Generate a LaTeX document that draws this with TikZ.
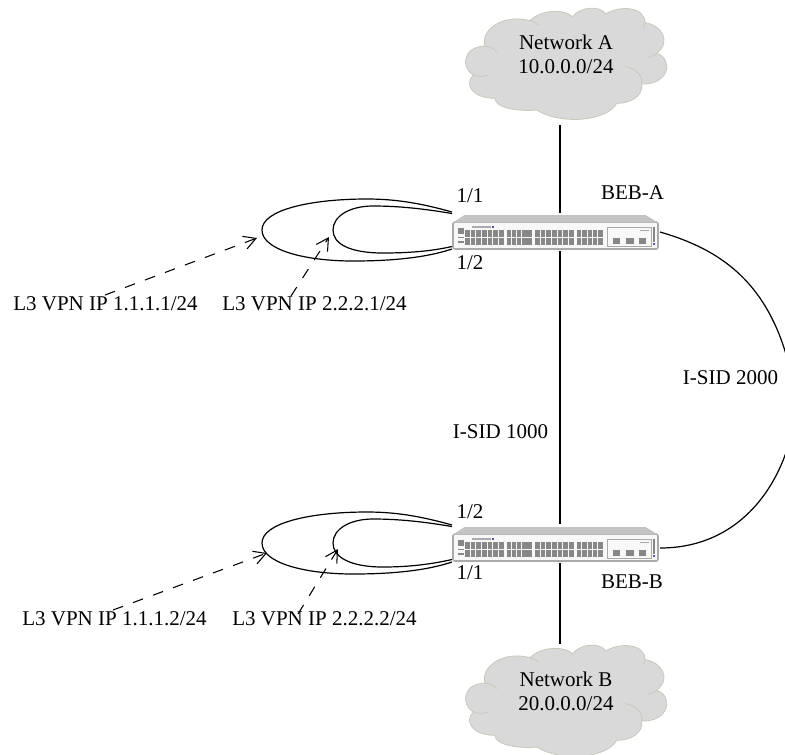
\documentclass[tikz,border=0pt]{standalone}
\usepackage{fontspec}
\usetikzlibrary{arrows.meta}
\setmainfont{Liberation Serif}
\definecolor{cloudfill}{RGB}{217,217,217}
\definecolor{cloudedge}{RGB}{200,200,185}
\definecolor{swbody}{RGB}{248,248,248}
\definecolor{swedge}{RGB}{170,170,170}
\definecolor{swtop}{RGB}{195,195,195}
\definecolor{swport}{RGB}{135,135,135}
\definecolor{swled}{RGB}{100,70,190}
\tikzset{
  x=0.75pt,y=-0.75pt,
  lbl/.style={font=\fontsize{15.75}{18}\selectfont,inner sep=0pt,align=center},
  link/.style={line width=1.5pt,black},
  curvelink/.style={line width=0.9pt,black},
  tunnel/.style={line width=0.9pt,black},
  pointer/.style={line width=0.8pt,black,dash pattern=on 8pt off 8pt,-{Straight Barb[length=9pt,width=10pt]}},
  swframe/.style={minimum width=153.75pt,minimum height=20.25pt,inner sep=0pt,draw=swedge,fill=swbody,line width=1.2pt,rounded corners=1.5pt},
  cloudshape/.style={fill=cloudfill,draw=cloudedge,line width=0.6pt},
  cloudfold/.style={draw=cloudedge,line width=0.6pt},
  switchbody/.pic={
    \fill[swtop] (-102.5,-13) -- (-91,-20.5) -- (90,-20.5) -- (102.5,-13) -- cycle;
    \foreach \gx/\n/\pt in {-90.5/7/5.67,-48.8/5/5.1,-20.5/7/5.67,21.2/5/5.4}{
      \foreach \i in {1,...,\n}{
        \pgfmathsetmacro{\px}{\gx+(\i-1)*\pt}
        \fill[swport] (\px,-5.5) rectangle ++(4.5,6.5);
        \fill[swport] (\px,2.9) rectangle ++(4.5,6.5);
      }
    }
    \fill[swport] (-98,-8) rectangle (-92,-2);
    \fill[swport] (-98,1.2) rectangle (-92,2.8);
    \fill[swport] (-98,5) rectangle (-92,7);
    \draw[swedge,line width=0.5pt] (52,-8) rectangle (95.5,11);
    \fill[swport] (57,2) rectangle (64.5,8);
    \fill[swport] (70,2) rectangle (78,8);
    \fill[swport] (83,2) rectangle (90.5,8);
    \fill[swedge] (84,-6) rectangle (93,-5);
    \fill[swport] (97,-9) rectangle (99.2,6);
    \fill[swedge] (-84,-9.5) rectangle (-65,-8);
    \fill[swled] (-64,-10) rectangle (-62,-8);
    \fill[swled] (97.5,7) rectangle (99.5,9);
  },
}
\newcommand{\cloudoutline}{
  \path[cloudshape] (100,225) .. controls (60,200) and (70,140) .. (135,138)
    .. controls (120,90) and (190,40) .. (270,62)
    .. controls (300,30) and (370,25) .. (398,50)
    .. controls (420,20) and (480,15) .. (497,42)
    .. controls (540,15) and (615,20) .. (615,68)
    .. controls (665,75) and (695,125) .. (650,160)
    .. controls (700,175) and (690,255) .. (605,252)
    .. controls (610,290) and (570,310) .. (530,310)
    .. controls (500,365) and (360,375) .. (290,330)
    .. controls (240,335) and (165,325) .. (165,295)
    .. controls (100,295) and (70,255) .. (100,225) -- cycle;
  \path[cloudfold] (135,138) .. controls (150,140) and (162,146) .. (170,155);
  \path[cloudfold] (100,225) .. controls (115,230) and (130,230) .. (145,226);
  \path[cloudfold] (555,200) .. controls (590,205) and (610,230) .. (605,252);
  \path[cloudfold] (650,160) .. controls (642,167) and (635,170) .. (625,172);
  \path[cloudfold] (615,68) .. controls (615,74) and (613,78) .. (610,82);
  \path[cloudfold] (270,62) .. controls (280,65) and (288,68) .. (295,75);
}
\begin{document}
\begin{tikzpicture}
\useasboundingbox (0,0) rectangle (785,754);
\begin{scope}
\clip (0,0) rectangle (785,754);
% clouds
\begin{scope}[shift={(440,0)},x=0.25pt,y=-0.25pt]
  \cloudoutline
\end{scope}
\begin{scope}[shift={(440,637)},x=0.25pt,y=-0.25pt]
  \cloudoutline
\end{scope}
\end{scope}
\node[lbl] (txtA) at (566,54) {Network A\\10.0.0.0/24};
\node[lbl] (txtB) at (566,691) {Network B\\20.0.0.0/24};
% switches
\node[swframe] (bebA) at (555.5,235.5) {};
\pic at (555.5,235.5) {switchbody};
\node[swframe] (bebB) at (555.5,547.5) {};
\pic at (555.5,547.5) {switchbody};
% attach points
\coordinate (cA) at (560,125);
\coordinate (aTop) at (560,213);
\coordinate (aBot) at (560,251);
\coordinate (bTop) at (560,524);
\coordinate (bBot) at (560,563);
\coordinate (cB) at (560,644);
\draw[link] (cA) -- (aTop);
\draw[link] (aBot) -- (bTop);
\draw[link] (bBot) -- (cB);
\coordinate (aR) at (660,232);
\coordinate (bR) at (660,548);
\begin{scope}
\clip (0,0) rectangle (785,754);
\draw[curvelink] (aR) .. controls (722,250) and (778,285) .. (795,395) .. controls (798,450) and (760,548) .. (bR);
\end{scope}
% tunnels
\draw[tunnel] (452,212) .. controls (420,203) and (395,199) .. (367,199) .. controls (310,199) and (262,210) .. (262,230) .. controls (262,250) and (305,261) .. (353,261) .. controls (390,261) and (425,258) .. (452,249);
\draw[tunnel] (452,213.5) .. controls (425,209) and (400,206) .. (373,206) .. controls (350,206) and (333,216) .. (333,230) .. controls (333,244) and (350,253) .. (383,253) .. controls (410,253) and (432,251) .. (452,246.5);
\draw[tunnel] (452,525) .. controls (420,516) and (395,512) .. (367,512) .. controls (310,512) and (262,523) .. (262,543) .. controls (262,563) and (305,574) .. (353,574) .. controls (390,574) and (425,571) .. (452,562);
\draw[tunnel] (452,526.5) .. controls (425,522) and (400,519) .. (373,519) .. controls (350,519) and (333,529) .. (333,543) .. controls (333,557) and (350,567) .. (383,567) .. controls (410,567) and (432,564) .. (452,559.5);
% pointer labels
\node[lbl,anchor=west] (l1) at (13,304) {L3 VPN IP 1.1.1.1/24};
\node[lbl,anchor=west] (l2) at (222,304) {L3 VPN IP 2.2.2.1/24};
\node[lbl,anchor=west] (l3) at (22,619) {L3 VPN IP 1.1.1.2/24};
\node[lbl,anchor=west] (l4) at (232,619) {L3 VPN IP 2.2.2.2/24};
\coordinate (p1) at (105,295);
\coordinate (p2) at (291,296);
\coordinate (p3) at (113,610);
\coordinate (p4) at (298,614);
\coordinate (t1) at (257,238);
\coordinate (t2) at (329,237);
\coordinate (t3) at (267,553);
\coordinate (t4) at (338,549);
\draw[pointer] (p1) -- (t1);
\draw[pointer] (p2) -- (t2);
\draw[pointer] (p3) -- (t3);
\draw[pointer] (p4) -- (t4);
% labels
\node[lbl] (pa1) at (470,196) {1/1};
\node[lbl] (pa2) at (470,263) {1/2};
\node[lbl] (pb2) at (470,512) {1/2};
\node[lbl] (pb1) at (470,573) {1/1};
\node[lbl] (na) at (632.5,193) {BEB-A};
\node[lbl] (nb) at (632,582) {BEB-B};
\node[lbl] (s1) at (500.5,432) {I-SID 1000};
\node[lbl] (s2) at (730.5,378) {I-SID 2000};
\end{tikzpicture}
\end{document}
